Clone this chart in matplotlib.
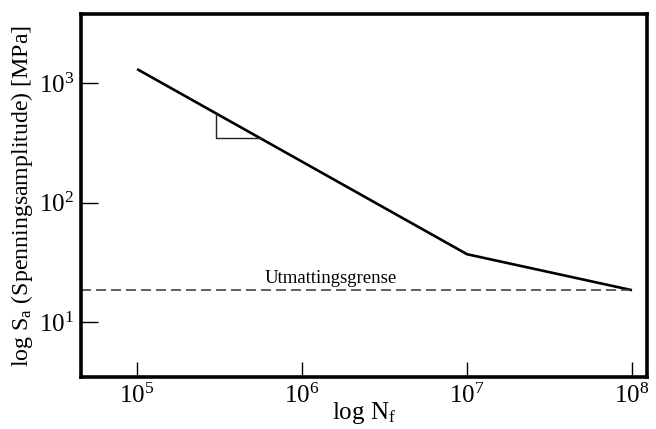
import matplotlib
matplotlib.use("Agg")
import matplotlib.pyplot as plt
import numpy as np

plt.rcParams['font.family'] = ['Liberation Serif', 'DejaVu Serif']
plt.rcParams['mathtext.fontset'] = 'custom'
plt.rcParams['mathtext.rm'] = 'Liberation Serif'
plt.rcParams['mathtext.it'] = 'Liberation Serif:italic'

# S-N curve (cycles to failure, stress amplitude in MPa)
N_cycles = [1e5, 1e7, 1e8]
S_amp = [1310, 37, 18.5]

# fatigue limit
fatigue_limit = 18.5
limit_label = "Utmattingsgrense"

# slope triangle, x positions
tri_x = [3.0e5, 5.6e5]

x_ticks = [1e5, 1e6, 1e7, 1e8]
y_ticks = [1e1, 1e2, 1e3]

fig = plt.figure(figsize=(6.56, 4.29), dpi=100)
ax = fig.add_axes([0.1235, 0.121, 0.8625, 0.846])

ax.plot(N_cycles, S_amp, color="black", lw=1.9, solid_capstyle="butt")
ax.axhline(fatigue_limit, xmax=0.97, color="#444444", lw=1.2, ls=(0, (6, 3)))
ax.text(1.5e6, fatigue_limit * 1.07, limit_label, ha="center", va="bottom", fontsize=13.5)

# triangle corner points taken on the curve
logx = np.log10(N_cycles)
logy = np.log10(S_amp)
ya, yb = 10 ** np.interp(np.log10(tri_x), logx, logy)
ax.plot([tri_x[0], tri_x[0], tri_x[1]], [ya, yb, yb], color="#222222", lw=1.0)

ax.set_xscale("log")
ax.set_yscale("log")
ax.set_xlim(10 ** 4.66, 10 ** 8.09)
ax.set_ylim(10 ** 0.54, 10 ** 3.577)
ax.set_xticks(x_ticks)
ax.set_yticks(y_ticks)
ax.minorticks_off()
ax.tick_params(direction="in", length=11, width=1.0, labelsize=18)
ax.tick_params(axis="x", pad=5)
ax.tick_params(axis="y", length=12, pad=5)

for s in ax.spines.values():
    s.set_linewidth(2.6)

ax.set_xlabel(r"log N$_\mathregular{f}$", fontsize=18, labelpad=-6)
ax.set_ylabel(r"log S$_\mathregular{a}$ (Spenningsamplitude) [MPa]", fontsize=17.2, labelpad=3)

fig.savefig("out.png", dpi=100)
